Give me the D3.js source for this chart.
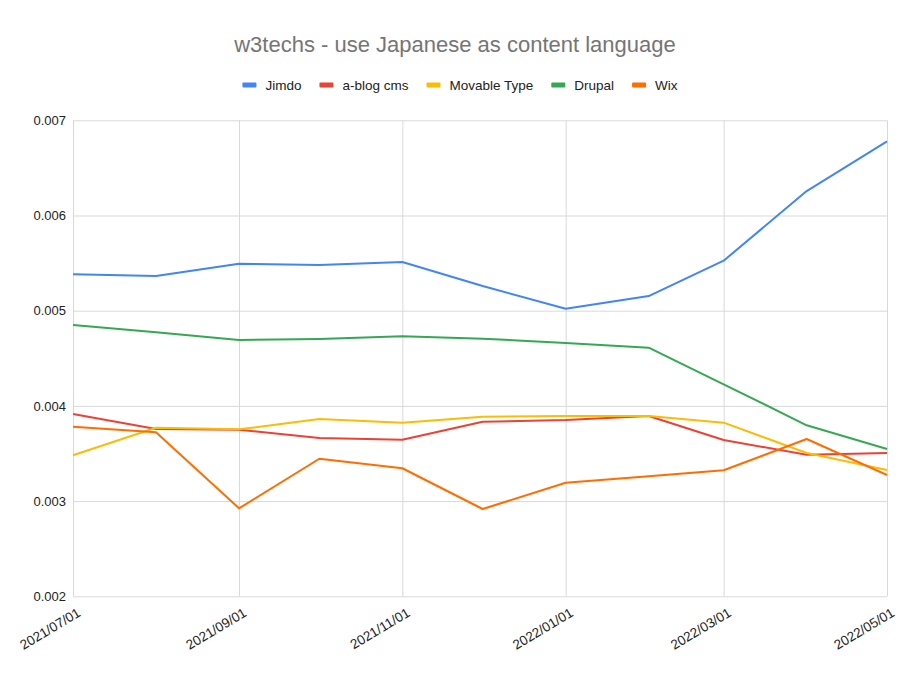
<!DOCTYPE html>
<html><head><meta charset="utf-8">
<script src="https://cdn.jsdelivr.net/npm/d3@7"></script>
<style>body{margin:0;background:#fff}</style>
</head><body>
<svg id="c" width="920" height="676"></svg>
<script>
const dates = ["2021/07/01","2021/08/01","2021/09/01","2021/10/01","2021/11/01","2021/12/01","2022/01/01","2022/02/01","2022/03/01","2022/04/01","2022/05/01"];
const seriesNames = ["Jimdo","a-blog cms","Movable Type","Drupal","Wix"];
const jimdo = [0.005382,0.005364,0.005494,0.005480,0.005511,0.005259,0.005021,0.005154,0.005525,0.006257,0.006779];
const ablog = [0.003915,0.003757,0.003750,0.003663,0.003645,0.003834,0.003852,0.003894,0.003642,0.003487,0.003505];
const movable = [0.003481,0.003771,0.003754,0.003862,0.003824,0.003887,0.003894,0.003894,0.003824,0.003505,0.003327];
const drupal = [0.004850,0.004773,0.004692,0.004703,0.004731,0.004706,0.004661,0.004612,0.004227,0.003796,0.003547];
const wix = [0.003782,0.003723,0.002924,0.003445,0.003345,0.002917,0.003193,0.003260,0.003324,0.003652,0.003274];
const yTicks = [0.002,0.003,0.004,0.005,0.006,0.007];
const xTickLabels = ["2021/07/01","2021/09/01","2021/11/01","2022/01/01","2022/03/01","2022/05/01"];
const colors = ["#4285F4","#EA4335","#FBBC04","#34A853","#FF6D01"];
const title = "w3techs - use Japanese as content language";

const values = [jimdo, ablog, movable, drupal, wix];
const parse = d3.timeParse("%Y/%m/%d");
const svg = d3.select("#c");
const m = {l:73, r:887, t:120.3, b:596.3};
const x = d3.scaleTime().domain([parse(dates[0]), parse(dates[dates.length-1])]).range([m.l, m.r]);
const y = d3.scaleLinear().domain([0.002,0.007]).range([m.b, m.t]);
const font = "Arial, 'Liberation Sans', sans-serif";

// title
svg.append("text").attr("x",455).attr("y",52).attr("text-anchor","middle")
  .attr("font-family",font).attr("font-size",22).attr("fill","#757575").text(title);

// grid
const yAxis = d3.axisLeft(y).tickValues(yTicks).tickSize(-(m.r-m.l)).tickFormat(d3.format(".3f"));
const gy = svg.append("g").attr("transform",`translate(${m.l},0)`).call(yAxis);
gy.select(".domain").remove();
gy.selectAll("line").attr("stroke","#d9d9d9").attr("stroke-width",1);
gy.selectAll("text").attr("x",-7).attr("font-family",font).attr("font-size",13).attr("fill","#222");

const xAxis = d3.axisBottom(x).tickValues(xTickLabels.map(parse)).tickSize(-(m.b-m.t)).tickFormat(d3.timeFormat("%Y/%m/%d"));
const gx = svg.append("g").attr("transform",`translate(0,${m.b})`).call(xAxis);
gx.select(".domain").remove();
gx.selectAll("line").attr("stroke","#d9d9d9").attr("stroke-width",1);
gx.selectAll("text").attr("font-family",font).attr("font-size",13.5).attr("fill","#222")
  .attr("text-anchor","end").attr("dy",0).attr("y",0)
  .attr("transform","translate(8,19) rotate(-31)");

// lines
const line = d3.line().x((d,i)=>x(parse(dates[i]))).y(d=>y(d));
values.forEach((vals,k)=>{
  svg.append("path").datum(vals).attr("d",line).attr("fill","none")
    .attr("stroke",colors[k]).attr("stroke-width",2).attr("stroke-linejoin","round");
});

// legend
const lg = svg.append("g").attr("font-family",font).attr("font-size",13.5);
let lx = 0;
seriesNames.forEach((n,k)=>{
  const g = lg.append("g").attr("transform",`translate(${lx},0)`);
  g.append("rect").attr("x",0).attr("y",-2.5).attr("width",14).attr("height",5).attr("rx",1).attr("fill",colors[k]);
  const t = g.append("text").attr("x",23).attr("y",4.5).attr("fill","#222").text(n);
  const w = t.node().getComputedTextLength();
  lx += 23 + w + 18;
});
const totalW = lx - 18;
lg.attr("transform",`translate(${460 - totalW/2},85)`);
</script>
</body></html>
